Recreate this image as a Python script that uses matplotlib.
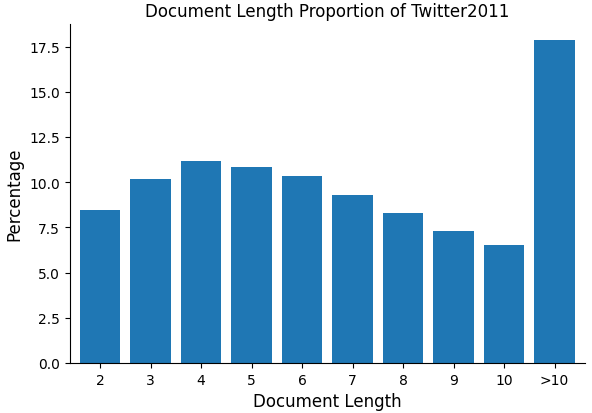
import matplotlib
matplotlib.use("Agg")
import matplotlib.pyplot as plt

categories = ["2", "3", "4", "5", "6", "7", "8", "9", "10", ">10"]
values = [8.45, 10.16, 11.15, 10.82, 10.33, 9.28, 8.28, 7.29, 6.52, 17.84]

fig = plt.figure(figsize=(5.92, 4.14), dpi=100)
ax = fig.add_axes([0.118, 0.121, 0.87, 0.818])
ax.bar(range(len(categories)), values, color="#1f77b4", width=0.8)
ax.set_xticks(range(len(categories)))
ax.set_xticklabels(categories)
ax.set_xlim(-0.6, 9.6)
ax.spines["top"].set_visible(False)
ax.spines["right"].set_visible(False)
ax.set_xlabel("Document Length", fontsize=12)
ax.set_ylabel("Percentage", fontsize=12)
ax.set_title("Document Length Proportion of Twitter2011", fontsize=12)
fig.savefig("out.png", dpi=100)
